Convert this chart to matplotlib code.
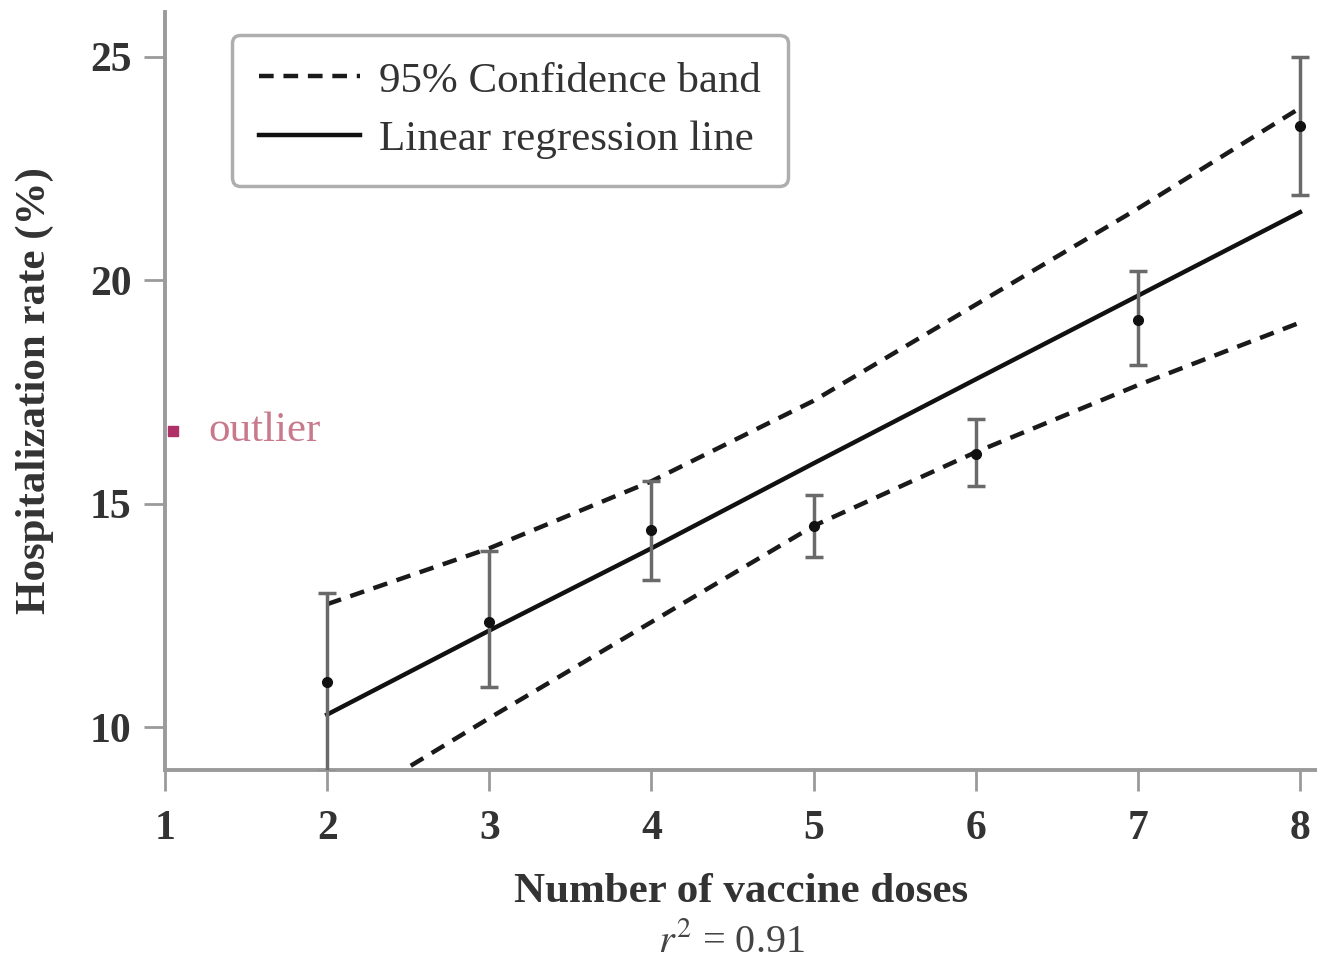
import numpy as np
import matplotlib
matplotlib.use("Agg")
import matplotlib.pyplot as plt

plt.rcParams['font.family'] = ['Liberation Serif', 'DejaVu Serif']
plt.rcParams['mathtext.fontset'] = 'stix'

# data
doses = [2, 3, 4, 5, 6, 7, 8]
rate = [11.0, 12.35, 14.4, 14.5, 16.1, 19.1, 23.45]
rate_low = [9.0, 10.9, 13.3, 13.8, 15.4, 18.1, 21.9]
rate_high = [13.0, 13.95, 15.5, 15.2, 16.9, 20.2, 25.0]
fit_line = [10.28, 12.16, 14.0, 15.9, 17.78, 19.65, 21.52]
band_upper = [12.75, 14.0, 15.5, 17.3, 19.45, 21.6, 23.85]
band_lower = [8.0, 10.2, 12.35, 14.5, 16.15, 17.65, 19.05]
outlier_x = 1.05
outlier_y = 16.63
r_squared = 0.91

xticks = [1, 2, 3, 4, 5, 6, 7, 8]
yticks = [10, 15, 20, 25]

fig = plt.figure(figsize=(13.17, 9.65), dpi=100)
ax = fig.add_axes([0.1253, 0.2021, 0.8747, 0.7855])

grey = '#9a9a9a'

# confidence band and regression line
band, = ax.plot(doses, band_upper, color='#1a1a1a', lw=3.2, dashes=(3.3, 2.2),
                label='95% Confidence band')
ax.plot(doses, band_lower, color='#1a1a1a', lw=3.2, dashes=(3.3, 2.2))
reg, = ax.plot(doses, fit_line, color='#111111', lw=3.2,
               label='Linear regression line')

# measured points with error bars
yerr = [np.array(rate) - np.array(rate_low), np.array(rate_high) - np.array(rate)]
ax.errorbar(doses, rate, yerr=yerr, fmt='o', color='#111111', ms=7,
            ecolor='#6a6a6a', elinewidth=2.5, capsize=6.5, capthick=2.5, zorder=3)

# outlier
ax.plot(outlier_x, outlier_y, 's', color='#b03068', ms=7, clip_on=False, zorder=4)
ax.text(outlier_x + 0.22, outlier_y, 'outlier', color='#c87a8c', fontsize=31,
        va='center', ha='left')

ax.set_xlim(1, 8.105)
ax.set_ylim(9.04, 26.0)
ax.set_xticks(xticks)
ax.set_yticks(yticks)
ax.set_xticklabels([str(t) for t in xticks], fontsize=30, fontweight='bold')
ax.set_yticklabels([str(t) for t in yticks], fontsize=30, fontweight='bold')
ax.tick_params(axis='both', direction='out', length=15, width=2, color=grey,
               labelcolor='#333333')
ax.tick_params(axis='x', pad=14)
ax.tick_params(axis='y', pad=9)

for s in ['top', 'right']:
    ax.spines[s].set_visible(False)
for s in ['left', 'bottom']:
    ax.spines[s].set_color(grey)
    ax.spines[s].set_linewidth(2.8)

ax.set_xlabel('Number of vaccine doses', fontsize=31, fontweight='bold',
              color='#333333', labelpad=18)
ax.set_ylabel('Hospitalization rate (%)', fontsize=31, fontweight='bold',
              color='#333333', labelpad=26)
fig.text(0.555, 0.004, r'$r^2$ = %.2f' % r_squared, fontsize=29,
         color='#444444', ha='center', va='bottom')

leg = ax.legend(handles=[band, reg], loc='upper left',
                bbox_to_anchor=(0.058, 0.97), borderaxespad=0, fontsize=31,
                frameon=True, fancybox=True, handlelength=2.35, borderpad=0.62,
                labelspacing=0.45, handletextpad=0.45)
leg.get_frame().set_edgecolor(grey)
leg.get_frame().set_linewidth(2.5)
for t in leg.get_texts():
    t.set_color('#333333')

fig.savefig('out.png', dpi=100)
